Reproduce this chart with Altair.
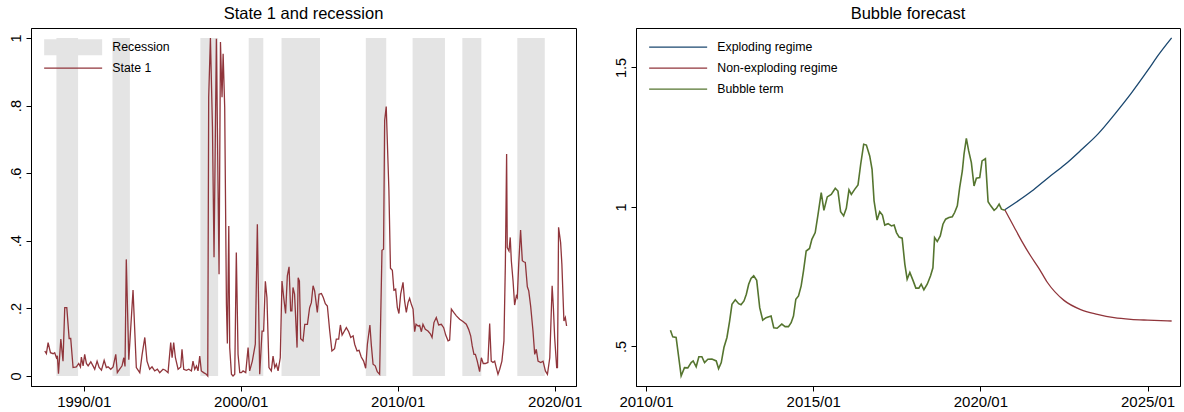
import altair as alt
import pandas as pd

FONT = "Liberation Sans"

# Recession periods, decimal years
rec_start = [1988.26, 1991.83, 1997.43, 2000.51, 2002.60, 2007.97, 2010.95, 2014.12, 2017.62]
rec_end = [1989.64, 1992.94, 1998.56, 2001.44, 2005.05, 2009.27, 2013.01, 2015.33, 2019.37]

# Smoothed probability of state 1
state1_year = [
    1987.52, 1987.62, 1987.73, 1987.88, 1988.05, 1988.15, 1988.26, 1988.32, 1988.39, 1988.54,
    1988.68, 1988.79, 1988.92, 1989.07, 1989.17, 1989.32, 1989.53, 1989.68, 1989.79, 1989.85,
    1989.96, 1990.06, 1990.17, 1990.28, 1990.45, 1990.59, 1990.70, 1990.85, 1990.98, 1991.13,
    1991.30, 1991.44, 1991.55, 1991.72, 1991.87, 1992.04, 1992.14, 1992.29, 1992.44, 1992.55,
    1992.63, 1992.71, 1992.87, 1993.14, 1993.35, 1993.57, 1993.72, 1993.89, 1994.03, 1994.20,
    1994.35, 1994.52, 1994.69, 1994.84, 1995.05, 1995.20, 1995.37, 1995.54, 1995.63, 1995.73,
    1995.84, 1996.01, 1996.18, 1996.26, 1996.37, 1996.54, 1996.69, 1996.86, 1996.96, 1997.07,
    1997.18, 1997.28, 1997.39, 1997.49, 1997.64, 1997.81, 1997.90, 1997.96, 1998.07, 1998.20,
    1998.30, 1998.45, 1998.62, 1998.71, 1998.81, 1998.88, 1998.98, 1999.09, 1999.15, 1999.24,
    1999.30, 1999.41, 1999.51, 1999.62, 1999.72, 1999.83, 1999.94, 2000.04, 2000.15, 2000.32,
    2000.47, 2000.57, 2000.74, 2000.93, 2001.06, 2001.21, 2001.36, 2001.46, 2001.57, 2001.67,
    2001.80, 2001.95, 2002.06, 2002.17, 2002.27, 2002.38, 2002.52, 2002.63, 2002.74, 2002.86,
    2002.97, 2003.08, 2003.18, 2003.26, 2003.33, 2003.43, 2003.59, 2003.66, 2003.74, 2003.82,
    2003.97, 2004.08, 2004.25, 2004.39, 2004.50, 2004.61, 2004.71, 2004.88, 2004.99, 2005.14,
    2005.26, 2005.39, 2005.52, 2005.67, 2005.81, 2005.98, 2006.09, 2006.24, 2006.35, 2006.46,
    2006.58, 2006.73, 2006.88, 2007.01, 2007.16, 2007.26, 2007.41, 2007.54, 2007.68, 2007.83,
    2007.96, 2008.07, 2008.23, 2008.32, 2008.43, 2008.57, 2008.70, 2008.85, 2009.00, 2009.10,
    2009.17, 2009.27, 2009.44, 2009.54, 2009.66, 2009.76, 2009.87, 2009.98, 2010.08, 2010.19,
    2010.34, 2010.44, 2010.55, 2010.66, 2010.76, 2010.87, 2010.98, 2011.08, 2011.17, 2011.30,
    2011.40, 2011.51, 2011.61, 2011.76, 2011.93, 2012.08, 2012.19, 2012.31, 2012.46, 2012.61,
    2012.78, 2012.93, 2013.06, 2013.21, 2013.31, 2013.42, 2013.57, 2013.74, 2013.95, 2014.16,
    2014.37, 2014.52, 2014.65, 2014.75, 2014.86, 2014.95, 2015.07, 2015.22, 2015.33, 2015.45,
    2015.58, 2015.75, 2015.86, 2015.96, 2016.07, 2016.18, 2016.28, 2016.39, 2016.50, 2016.64,
    2016.77, 2016.86, 2016.94, 2016.98, 2017.09, 2017.17, 2017.24, 2017.35, 2017.45, 2017.56,
    2017.62, 2017.71, 2017.83, 2017.94, 2018.03, 2018.13, 2018.26, 2018.35, 2018.47, 2018.62,
    2018.73, 2018.83, 2018.94, 2019.11, 2019.26, 2019.41, 2019.54, 2019.69, 2019.84, 2019.92,
    2020.00, 2020.13, 2020.18, 2020.25, 2020.38, 2020.46, 2020.59, 2020.68, 2020.76,
]
state1_value = [
    0.074, 0.066, 0.099, 0.069, 0.066, 0.069, 0.054, 0.060, 0.007, 0.109,
    0.044, 0.202, 0.202, 0.111, 0.111, 0.025, 0.027, 0.037, 0.027, 0.056,
    0.030, 0.064, 0.037, 0.030, 0.042, 0.030, 0.020, 0.044, 0.025, 0.017,
    0.046, 0.025, 0.027, 0.020, 0.027, 0.064, 0.010, 0.020, 0.030, 0.054,
    0.028, 0.345, 0.048, 0.254, 0.025, 0.010, 0.064, 0.114, 0.044, 0.020,
    0.027, 0.015, 0.020, 0.010, 0.020, 0.017, 0.010, 0.099, 0.054, 0.099,
    0.054, 0.020, 0.027, 0.079, 0.020, 0.017, 0.020, 0.015, 0.044, 0.020,
    0.030, 0.015, 0.059, 0.015, 0.010, 0.005, 0.000, 0.825, 1.000, 0.736,
    0.351, 0.998, 0.301, 0.988, 0.825, 0.953, 0.795, 0.212, 0.096, 0.444,
    0.084, 0.005, 0.000, 0.005, 0.365, 0.064, 0.010, 0.010, 0.015, 0.010,
    0.084, 0.015, 0.044, 0.094, 0.449, 0.005, 0.133, 0.133, 0.280, 0.232,
    0.025, 0.015, 0.059, 0.025, 0.035, 0.015, 0.054, 0.281, 0.232, 0.185,
    0.296, 0.323, 0.193, 0.193, 0.262, 0.242, 0.084, 0.291, 0.281, 0.110,
    0.104, 0.153, 0.153, 0.202, 0.217, 0.267, 0.252, 0.188, 0.242, 0.244,
    0.232, 0.214, 0.207, 0.133, 0.074, 0.081, 0.109, 0.109, 0.151, 0.121,
    0.131, 0.143, 0.131, 0.114, 0.119, 0.094, 0.074, 0.076, 0.056, 0.044,
    0.023, 0.094, 0.151, 0.092, 0.035, 0.030, 0.013, 0.005, 0.372, 0.375,
    0.756, 0.797, 0.550, 0.319, 0.313, 0.254, 0.257, 0.202, 0.185, 0.242,
    0.277, 0.222, 0.188, 0.217, 0.230, 0.212, 0.198, 0.131, 0.153, 0.148,
    0.150, 0.131, 0.153, 0.138, 0.133, 0.125, 0.114, 0.158, 0.173, 0.151,
    0.153, 0.143, 0.121, 0.104, 0.106, 0.198, 0.188, 0.178, 0.168, 0.161,
    0.153, 0.138, 0.119, 0.089, 0.064, 0.064, 0.044, 0.013, 0.054, 0.037,
    0.037, 0.040, 0.155, 0.044, 0.040, 0.044, 0.025, 0.005, 0.020, 0.044,
    0.104, 0.331, 0.657, 0.380, 0.370, 0.410, 0.341, 0.281, 0.210, 0.237,
    0.232, 0.331, 0.432, 0.341, 0.338, 0.336, 0.264, 0.252, 0.207, 0.133,
    0.064, 0.079, 0.044, 0.040, 0.044, 0.015, 0.005, 0.054, 0.267, 0.202,
    0.114, 0.025, 0.025, 0.440, 0.395, 0.331, 0.163, 0.173, 0.148,
]

# Estimated bubble term
bubble_year = [
    2010.73, 2010.80, 2010.90, 2011.05, 2011.15, 2011.25, 2011.35, 2011.41, 2011.50, 2011.58,
    2011.67, 2011.75, 2011.85, 2011.97, 2012.10, 2012.17, 2012.25, 2012.33, 2012.42, 2012.50,
    2012.57, 2012.67, 2012.77, 2012.84, 2012.93, 2013.00, 2013.07, 2013.14, 2013.22, 2013.31,
    2013.40, 2013.49, 2013.59, 2013.74, 2013.82, 2013.92, 2014.06, 2014.16, 2014.26, 2014.34,
    2014.41, 2014.48, 2014.56, 2014.64, 2014.71, 2014.79, 2014.89, 2014.96, 2015.06, 2015.14,
    2015.24, 2015.32, 2015.42, 2015.54, 2015.66, 2015.74, 2015.82, 2015.91, 2015.99, 2016.07,
    2016.14, 2016.24, 2016.34, 2016.42, 2016.51, 2016.59, 2016.69, 2016.76, 2016.82, 2016.91,
    2016.99, 2017.07, 2017.14, 2017.24, 2017.34, 2017.42, 2017.49, 2017.57, 2017.66, 2017.74,
    2017.81, 2017.89, 2017.99, 2018.07, 2018.16, 2018.23, 2018.31, 2018.41, 2018.51, 2018.58,
    2018.63, 2018.71, 2018.80, 2018.88, 2018.96, 2019.06, 2019.16, 2019.23, 2019.31, 2019.38,
    2019.46, 2019.51, 2019.58, 2019.65, 2019.73, 2019.81, 2019.88, 2019.98, 2020.05, 2020.15,
    2020.23, 2020.31, 2020.41, 2020.48, 2020.56, 2020.63, 2020.73,
]
bubble_value = [
    0.558, 0.534, 0.532, 0.394, 0.424, 0.423, 0.442, 0.448, 0.427, 0.463,
    0.463, 0.442, 0.454, 0.455, 0.448, 0.420, 0.442, 0.496, 0.532, 0.591,
    0.651, 0.667, 0.653, 0.649, 0.663, 0.687, 0.723, 0.744, 0.753, 0.737,
    0.639, 0.594, 0.603, 0.609, 0.567, 0.565, 0.580, 0.571, 0.571, 0.585,
    0.609, 0.669, 0.681, 0.717, 0.771, 0.842, 0.851, 0.884, 0.908, 0.970,
    1.051, 0.988, 1.036, 1.045, 1.067, 1.057, 0.983, 0.968, 0.995, 1.061,
    1.045, 1.063, 1.079, 1.153, 1.225, 1.222, 1.183, 1.135, 1.022, 0.953,
    0.983, 0.971, 0.935, 0.940, 0.932, 0.935, 0.908, 0.892, 0.888, 0.795,
    0.741, 0.765, 0.735, 0.709, 0.709, 0.723, 0.703, 0.723, 0.753, 0.782,
    0.890, 0.876, 0.896, 0.938, 0.956, 0.962, 0.965, 0.980, 1.004, 1.069,
    1.129, 1.189, 1.246, 1.201, 1.159, 1.075, 1.103, 1.105, 1.165, 1.173,
    1.019, 1.004, 0.988, 0.995, 1.010, 0.992, 0.988,
]

# Forecast paths under each regime
explode_year = [2020.73, 2021.53, 2022.02, 2022.53, 2023.02, 2023.52, 2024.02, 2024.52,
                2025.02, 2025.32, 2025.72]
explode_value = [0.990, 1.056, 1.104, 1.152, 1.205, 1.262, 1.333, 1.409,
                 1.492, 1.544, 1.606]
calm_year = [2020.73, 2021.00, 2021.25, 2021.50, 2021.75, 2022.00, 2022.50, 2023.00,
             2023.50, 2024.00, 2024.50, 2025.00, 2025.72]
calm_value = [0.990, 0.930, 0.875, 0.825, 0.780, 0.730, 0.665, 0.632,
              0.615, 0.603, 0.597, 0.594, 0.591]

NAVY, MAROON, GREEN, SHADE = "#1a476f", "#90353b", "#55752f", "#e4e4e4"

rec_df = pd.DataFrame({"start": rec_start, "end": rec_end, "lo": 0.0, "hi": 1.0,
                       "series": "Recession"})
s1_df = pd.DataFrame({"year": state1_year, "value": state1_value, "series": "State 1"})

fc_df = pd.concat([
    pd.DataFrame({"year": explode_year, "value": explode_value, "series": "Exploding regime"}),
    pd.DataFrame({"year": calm_year, "value": calm_value, "series": "Non-exploding regime"}),
])
bub_df = pd.DataFrame({"year": bubble_year, "value": bubble_value, "series": "Bubble term"})

# legend keys: a long thin stroke and a wide flat box
LINE_PATH = "M-5.8,0H5.8"
BOX_PATH = "M-5.8,-1.6H5.8V1.6H-5.8Z"

x_axis_common = dict(title=None, grid=False, tickSize=5, tickColor="#000", domainColor="#000",
                     labelFontSize=15, labelFont=FONT, labelColor="#000", labelPadding=3,
                     labelExpr="datum.value + '/01'", labelFlush=False)
y_axis_common = dict(title=None, grid=False, tickSize=5, tickColor="#000", domainColor="#000",
                     labelFontSize=14.5, labelFont=FONT, labelColor="#000", labelAngle=270,
                     labelPadding=3,
                     labelExpr="datum.value > 0 && datum.value < 1 ? substring(format(datum.value, '~g'), 1) : format(datum.value, '~g')")

legend_common = dict(title=None, orient="none", padding=0, symbolSize=100, labelOffset=33,
                     rowPadding=8, labelFont=FONT, labelFontSize=12.3, labelColor="#000")

# ---------- left panel: state probability and recessions ----------
xl = alt.Scale(domain=[1986.64, 2021.36], nice=False, zero=False)
yl = alt.Scale(domain=[-0.0296, 1.0296], nice=False, zero=False)

bands = alt.Chart(rec_df).mark_rect(strokeWidth=0).encode(
    x=alt.X("start:Q", scale=xl, axis=alt.Axis(values=[1990, 2000, 2010, 2020], **x_axis_common)),
    x2="end:Q",
    y=alt.Y("lo:Q", scale=yl, axis=alt.Axis(values=[0, 0.2, 0.4, 0.6, 0.8, 1], **y_axis_common)),
    y2="hi:Q",
    fill=alt.Fill("series:N", scale=alt.Scale(domain=["Recession"], range=[SHADE]),
                  legend=alt.Legend(legendX=36, legendY=13, symbolType=BOX_PATH,
                                    symbolStrokeWidth=0, symbolFillColor=SHADE,
                                    **legend_common)),
)
s1_line = alt.Chart(s1_df).mark_line(strokeWidth=1.3, clip=True).encode(
    x=alt.X("year:Q", scale=xl, title=None),
    y=alt.Y("value:Q", scale=yl, title=None),
    stroke=alt.Stroke("series:N", scale=alt.Scale(domain=["State 1"], range=[MAROON]),
                      legend=alt.Legend(legendX=36, legendY=34, symbolType=LINE_PATH,
                                        symbolStrokeWidth=1.4, **legend_common)),
)
left = alt.layer(bands, s1_line).properties(
    width=545, height=358,
    title=alt.TitleParams("State 1 and recession", font=FONT, fontSize=16.5, fontWeight="normal",
                          anchor="middle", frame="group", offset=6, color="#000"),
)

# ---------- right panel: bubble forecast ----------
xr = alt.Scale(domain=[2009.70, 2025.97], nice=False, zero=False)
yr = alt.Scale(domain=[0.358, 1.6416], nice=False, zero=False)
right_color = alt.Scale(domain=["Exploding regime", "Non-exploding regime", "Bubble term"],
                        range=[NAVY, MAROON, GREEN])
right_legend = alt.Legend(legendX=36, legendY=13, symbolType=LINE_PATH, symbolStrokeWidth=1.4,
                          **legend_common)

fc_lines = alt.Chart(fc_df).mark_line(strokeWidth=1.3, interpolate="monotone", clip=True).encode(
    x=alt.X("year:Q", scale=xr, axis=alt.Axis(values=[2010, 2015, 2020, 2025], **x_axis_common)),
    y=alt.Y("value:Q", scale=yr, axis=alt.Axis(values=[0.5, 1, 1.5], **y_axis_common)),
    stroke=alt.Stroke("series:N", scale=right_color, legend=right_legend),
)
bub_line = alt.Chart(bub_df).mark_line(strokeWidth=1.6, clip=True).encode(
    x=alt.X("year:Q", scale=xr, title=None),
    y=alt.Y("value:Q", scale=yr, title=None),
    stroke=alt.Stroke("series:N", scale=right_color, legend=right_legend),
)
right = alt.layer(fc_lines, bub_line).properties(
    width=544, height=358,
    title=alt.TitleParams("Bubble forecast", font=FONT, fontSize=16.5, fontWeight="normal",
                          anchor="middle", frame="group", offset=6, color="#000"),
)

chart = alt.hconcat(left, right, spacing=60, bounds="flush").resolve_scale(
    stroke="independent", fill="independent"
).resolve_legend(
    stroke="independent", fill="independent"
).properties(
    padding={"left": 7, "top": 5, "right": 0, "bottom": 0},
    background="white",
).configure_view(stroke="#000", strokeWidth=1)

chart.save("out.html", embed_options={"renderer": "svg", "actions": False})
